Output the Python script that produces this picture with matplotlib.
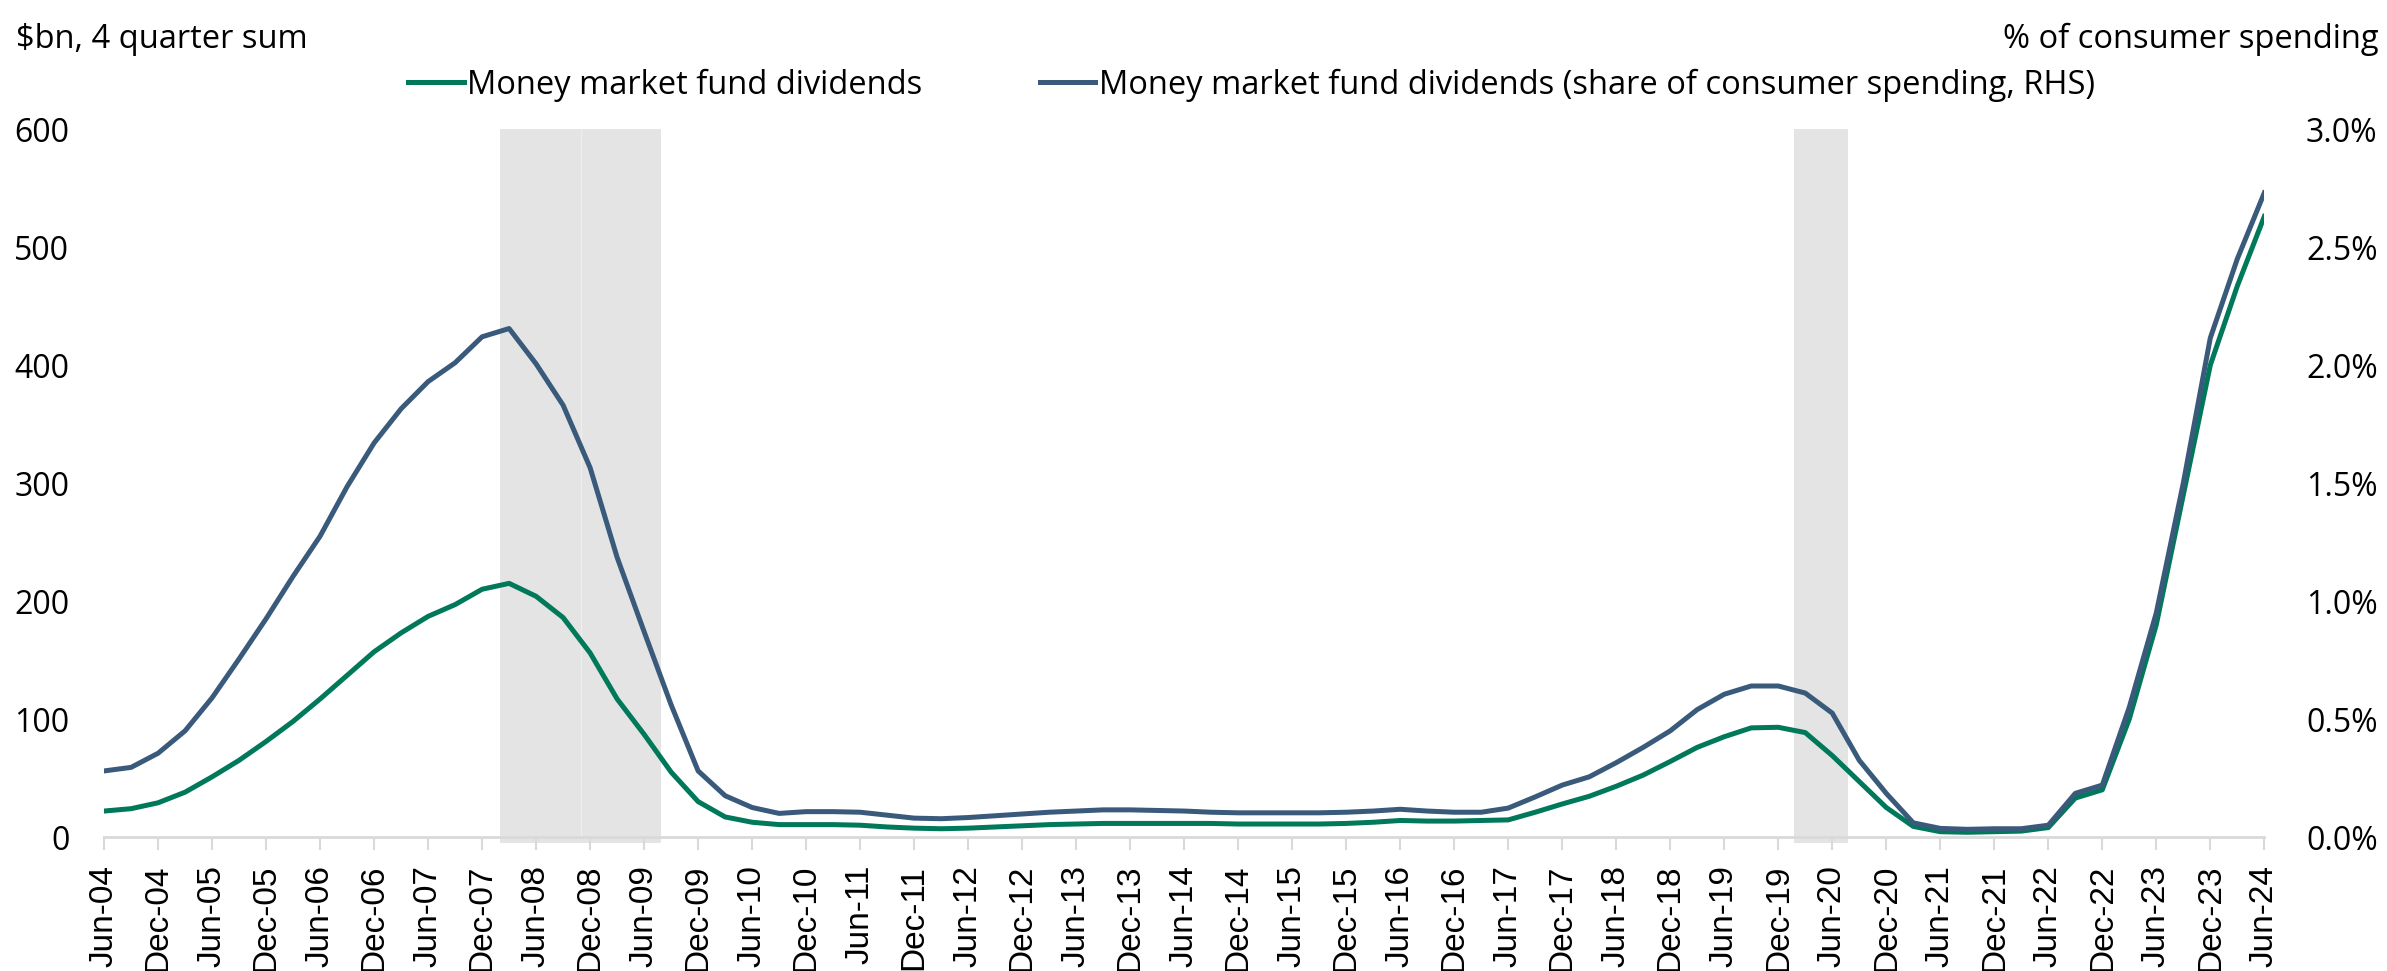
import matplotlib
matplotlib.use("Agg")
import matplotlib.pyplot as plt
from matplotlib.ticker import FuncFormatter

plt.rcParams['font.family'] = ['Open Sans', 'DejaVu Sans']

# Quarterly, Jun-04 .. Jun-24 (81 quarters)
dividends_bn = [22, 24, 29, 38, 51, 65, 81, 98, 117, 137, 157, 173, 187, 197, 210, 215,
                204, 186, 156, 117, 87, 55, 30, 17, 12.5, 10.5, 10.5, 10.5, 10, 8.5, 7.5, 7,
                7.5, 8.5, 9.5, 10.5, 11, 11.5, 11.5, 11.5, 11.5, 11.5, 11, 11, 11, 11, 11.5, 12.5,
                14, 13.5, 13.5, 14, 14.5, 21, 28, 34.5, 43, 52.5, 64, 76, 85, 92.5, 93, 88.5,
                69, 47, 25, 9, 4.5, 4, 4.5, 5, 8, 33, 40, 100, 180, 290, 400, 467, 526]
share_pct = [0.28, 0.295, 0.355, 0.45, 0.59, 0.755, 0.925, 1.105, 1.275, 1.485, 1.67, 1.815, 1.93, 2.01, 2.12, 2.155,
             2.005, 1.83, 1.565, 1.185, 0.87, 0.56, 0.28, 0.175, 0.125, 0.10, 0.1075, 0.1075, 0.105, 0.0925, 0.08, 0.0775,
             0.0825, 0.09, 0.0975, 0.105, 0.11, 0.115, 0.115, 0.1125, 0.11, 0.105, 0.1025, 0.1025, 0.1025, 0.1025, 0.105, 0.11,
             0.1175, 0.11, 0.105, 0.105, 0.1225, 0.17, 0.22, 0.255, 0.315, 0.38, 0.45, 0.54, 0.605, 0.64, 0.64, 0.61,
             0.525, 0.325, 0.185, 0.06, 0.0365, 0.0325, 0.035, 0.035, 0.05, 0.185, 0.22, 0.55, 0.95, 1.50, 2.115, 2.45, 2.73]

tick_labels = []
for y in range(4, 25):
    tick_labels.append(f"Jun-{y:02d}")
    if y < 24:
        tick_labels.append(f"Dec-{y:02d}")

recessions = [(14.67, 17.65), (17.65, 20.63), (62.6, 64.6)]

green = '#00785A'
blue = '#3A5A7B'

fig = plt.figure(figsize=(23.87, 9.71), dpi=100)
ax = fig.add_axes([0.0436, 0.138, 0.905, 0.729])
ax2 = ax.twinx()

x = list(range(len(dividends_bn)))
for a, b in recessions:
    ax.axvspan(a, b, ymin=-0.008, ymax=1.0, color='#E4E4E4', lw=0, zorder=0, clip_on=False)
ax.axvline(17.65, color='#EEEEEE', lw=1, zorder=0.5)

l1, = ax.plot(x, dividends_bn, color=green, lw=3.6, label='Money market fund dividends', zorder=3)
l2, = ax2.plot(x, share_pct, color=blue, lw=3.6,
               label='Money market fund dividends (share of consumer spending, RHS)', zorder=3)

ax.set_xlim(0, 80)
ax.set_ylim(0, 600)
ax2.set_ylim(0, 3.0)
ax.set_yticks(range(0, 601, 100))
ax2.set_yticks([0, 0.5, 1.0, 1.5, 2.0, 2.5, 3.0])
ax2.yaxis.set_major_formatter(FuncFormatter(lambda v, p: f"{v:.1f}%"))

ax.set_xticks(range(0, 81, 2))
ax.set_xticklabels(tick_labels, rotation=90, family='Liberation Sans', fontsize=24)

for a in (ax, ax2):
    for s in a.spines.values():
        s.set_visible(False)
ax.spines['bottom'].set_visible(True)
ax.spines['bottom'].set_color('#D9D9D9')
ax.spines['bottom'].set_linewidth(2)
ax.tick_params(axis='x', length=9, width=1.5, color='#D9D9D9', pad=11)
ax.tick_params(axis='y', length=0, labelsize=23, pad=25)
ax2.tick_params(axis='y', length=0, labelsize=23, pad=30)
ax2.patch.set_visible(False)

fig.text(0.0065, 0.959, '$bn, 4 quarter sum', fontsize=23.5, ha='left', va='center')
fig.text(0.9965, 0.959, '% of consumer spending', fontsize=23.5, ha='right', va='center')

fig.legend(handles=[l1, l2], loc='center', bbox_to_anchor=(0.5243, 0.9125), ncol=2, frameon=False,
           fontsize=23.5, handlelength=1.7, handletextpad=0.1, columnspacing=3.6)

fig.savefig('out.png', dpi=100)
